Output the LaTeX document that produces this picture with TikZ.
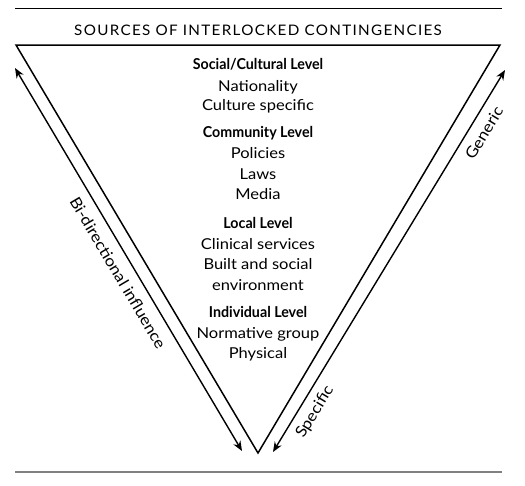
\documentclass[tikz,border=0pt]{standalone}
\usepackage{fontspec}
\setmainfont{Lato}
\newfontfamily\widefont[FakeStretch=1.1]{Lato}
\newfontfamily\headfont[FakeStretch=0.95]{Lato Bold}
\newfontfamily\titlefont[LetterSpace=9,FakeStretch=1.05]{Lato}
\usetikzlibrary{arrows.meta}
\begin{document}
\begin{tikzpicture}[x=1pt,y=-1pt,
  rule/.style={line width=1pt},
  edge/.style={line width=1.5pt,line join=miter},
  flow/.style={line width=1.4pt,{Stealth[length=10pt,width=8pt]}-{Stealth[length=10pt,width=8pt]}},
  head/.style={font=\headfont\fontsize{15}{18}\selectfont,anchor=base},
  item/.style={font=\widefont\fontsize{15}{18}\selectfont,anchor=base},
  side/.style={font=\widefont\fontsize{15.5}{18}\selectfont}]
\useasboundingbox (0,0) rectangle (525,485);
% rules
\coordinate (rtl) at (15,8); \coordinate (rtr) at (502,8);
\coordinate (rbl) at (15,472); \coordinate (rbr) at (502,472);
\draw[rule] (rtl) -- (rtr);
\draw[line width=1.5pt,gray] (rbl) -- (rbr);
\node[font=\titlefont\fontsize{14.5}{17}\selectfont,anchor=base] (title) at (258,35) {SOURCES OF INTERLOCKED CONTINGENCIES};
% triangle
\coordinate (tl) at (16,45); \coordinate (tr) at (500,45); \coordinate (tb) at (258,453);
\draw[edge] (tl) -- (tr) -- (tb) -- cycle;
% arrows
\coordinate (la) at (15,68); \coordinate (lb) at (242,451);
\coordinate (ra) at (505,70); \coordinate (rb) at (273,452);
\draw[flow] (la) -- (lb);
\draw[flow] (rb) -- (ra);
\node[side,rotate=-59.35] (bi) at (118,273) {Bi-directional influence};
\node[side,rotate=58.7] (gen) at (484,133) {Generic};
\node[side,rotate=58.7] (spec) at (315,412) {Specific};
% levels
\node[head] (h1) at (258,69) {Social/Cultural Level};
\node[item] (i11) at (258,91) {Nationality};
\node[item] (i12) at (258,110) {Culture specific};
\node[head] (h2) at (258,137) {Community Level};
\node[item] (i21) at (258,158) {Policies};
\node[item] (i22) at (258,179) {Laws};
\node[item] (i23) at (258,199) {Media};
\node[head] (h3) at (258,228) {Local Level};
\node[item] (i31) at (258,249) {Clinical services};
\node[item] (i32) at (258,269) {Built and social};
\node[item] (i33) at (258,290) {environment};
\node[head] (h4) at (258,317) {Individual Level};
\node[item] (i41) at (258,338) {Normative group};
\node[item] (i42) at (258,358) {Physical};
\end{tikzpicture}
\end{document}
